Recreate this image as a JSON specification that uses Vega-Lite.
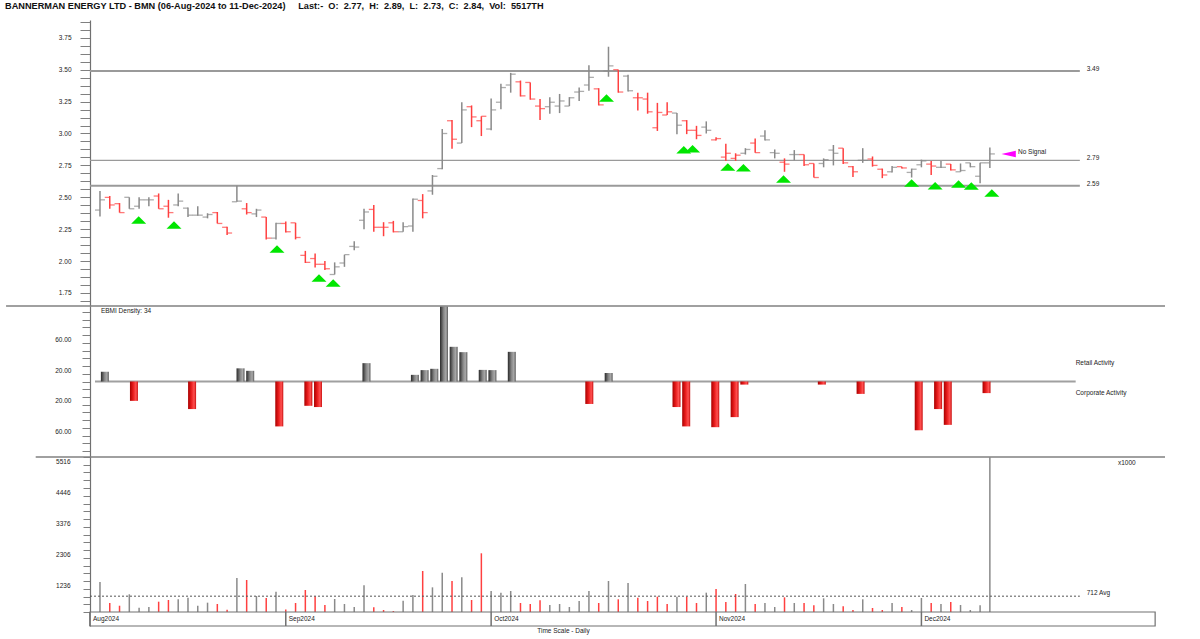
{
  "$schema": "https://vega.github.io/schema/vega-lite/v6.json",
  "padding": {"top": 2, "left": 0, "right": 0, "bottom": 0},
  "background": "white",
  "title": {
    "text": "BANNERMAN ENERGY LTD - BMN (06-Aug-2024 to 11-Dec-2024)\u00a0\u00a0\u00a0\u00a0\u00a0Last:-\u00a0\u00a0O:\u00a0\u00a02.77,\u00a0\u00a0H:\u00a0\u00a02.89,\u00a0\u00a0L:\u00a0\u00a02.73,\u00a0\u00a0C:\u00a0\u00a02.84,\u00a0\u00a0Vol:\u00a0\u00a05517TH",
    "anchor": "start",
    "frame": "bounds",
    "dx": 5,
    "offset": 7.5,
    "font": "Liberation Sans",
    "fontSize": 9.2,
    "fontWeight": "bold",
    "color": "#111111"
  },
  "spacing": 0,
  "bounds": "flush",
  "resolve": {"scale": {"x": "independent", "y": "independent", "color": "independent"}},
  "datasets": {
    "days": [
      {"i":0,"o":2.40,"h":2.55,"l":2.35,"c":2.48,"v":1202,"dir":"up"},
      {"i":1,"o":2.50,"h":2.51,"l":2.41,"c":2.44,"v":477,"dir":"down"},
      {"i":2,"o":2.45,"h":2.455,"l":2.38,"c":2.38,"v":383,"dir":"down"},
      {"i":3,"o":2.50,"h":2.50,"l":2.41,"c":2.41,"v":777,"dir":"up"},
      {"i":4,"o":2.43,"h":2.50,"l":2.41,"c":2.48,"v":315,"dir":"up"},
      {"i":5,"o":2.48,"h":2.50,"l":2.43,"c":2.48,"v":338,"dir":"up"},
      {"i":6,"o":2.51,"h":2.53,"l":2.41,"c":2.41,"v":522,"dir":"down"},
      {"i":7,"o":2.43,"h":2.48,"l":2.34,"c":2.38,"v":580,"dir":"down"},
      {"i":8,"o":2.44,"h":2.53,"l":2.43,"c":2.47,"v":604,"dir":"up"},
      {"i":9,"o":2.415,"h":2.42,"l":2.345,"c":2.36,"v":660,"dir":"up"},
      {"i":10,"o":2.36,"h":2.43,"l":2.355,"c":2.36,"v":383,"dir":"up"},
      {"i":11,"o":2.345,"h":2.375,"l":2.335,"c":2.365,"v":488,"dir":"up"},
      {"i":12,"o":2.38,"h":2.385,"l":2.295,"c":2.295,"v":442,"dir":"down"},
      {"i":13,"o":2.265,"h":2.27,"l":2.205,"c":2.22,"v":246,"dir":"down"},
      {"i":14,"o":2.465,"h":2.59,"l":2.465,"c":2.47,"v":1340,"dir":"up"},
      {"i":15,"o":2.41,"h":2.455,"l":2.365,"c":2.38,"v":1271,"dir":"down"},
      {"i":16,"o":2.37,"h":2.41,"l":2.345,"c":2.40,"v":718,"dir":"up"},
      {"i":17,"o":2.345,"h":2.345,"l":2.17,"c":2.18,"v":649,"dir":"down"},
      {"i":18,"o":2.18,"h":2.30,"l":2.17,"c":2.295,"v":867,"dir":"up"},
      {"i":19,"o":2.295,"h":2.31,"l":2.225,"c":2.23,"v":250,"dir":"down"},
      {"i":20,"o":2.30,"h":2.30,"l":2.17,"c":2.185,"v":477,"dir":"down"},
      {"i":21,"o":2.045,"h":2.08,"l":1.985,"c":1.99,"v":925,"dir":"down"},
      {"i":22,"o":2.02,"h":2.06,"l":1.95,"c":1.975,"v":707,"dir":"down"},
      {"i":23,"o":1.975,"h":2.00,"l":1.93,"c":1.94,"v":408,"dir":"down"},
      {"i":24,"o":1.895,"h":1.99,"l":1.895,"c":1.955,"v":615,"dir":"up"},
      {"i":25,"o":1.985,"h":2.05,"l":1.955,"c":2.05,"v":442,"dir":"up"},
      {"i":26,"o":2.115,"h":2.155,"l":2.085,"c":2.11,"v":338,"dir":"up"},
      {"i":27,"o":2.32,"h":2.41,"l":2.25,"c":2.385,"v":1087,"dir":"up"},
      {"i":28,"o":2.405,"h":2.44,"l":2.23,"c":2.265,"v":327,"dir":"down"},
      {"i":29,"o":2.265,"h":2.305,"l":2.195,"c":2.265,"v":235,"dir":"down"},
      {"i":30,"o":2.30,"h":2.315,"l":2.225,"c":2.23,"v":200,"dir":"down"},
      {"i":31,"o":2.23,"h":2.305,"l":2.23,"c":2.27,"v":557,"dir":"up"},
      {"i":32,"o":2.275,"h":2.49,"l":2.23,"c":2.485,"v":753,"dir":"up"},
      {"i":33,"o":2.475,"h":2.525,"l":2.335,"c":2.38,"v":1581,"dir":"down"},
      {"i":34,"o":2.55,"h":2.675,"l":2.52,"c":2.665,"v":1017,"dir":"up"},
      {"i":35,"o":2.725,"h":3.035,"l":2.72,"c":3.00,"v":1523,"dir":"up"},
      {"i":36,"o":3.10,"h":3.105,"l":2.88,"c":2.955,"v":1236,"dir":"down"},
      {"i":37,"o":2.925,"h":3.245,"l":2.925,"c":3.185,"v":1364,"dir":"up"},
      {"i":38,"o":3.21,"h":3.22,"l":3.05,"c":3.13,"v":580,"dir":"down"},
      {"i":39,"o":3.10,"h":3.135,"l":2.98,"c":3.135,"v":2192,"dir":"down"},
      {"i":40,"o":3.035,"h":3.275,"l":3.025,"c":3.185,"v":891,"dir":"up"},
      {"i":41,"o":3.245,"h":3.39,"l":3.19,"c":3.36,"v":833,"dir":"up"},
      {"i":42,"o":3.38,"h":3.475,"l":3.32,"c":3.465,"v":891,"dir":"up"},
      {"i":43,"o":3.405,"h":3.415,"l":3.29,"c":3.295,"v":477,"dir":"down"},
      {"i":44,"o":3.40,"h":3.40,"l":3.265,"c":3.27,"v":442,"dir":"down"},
      {"i":45,"o":3.215,"h":3.27,"l":3.105,"c":3.195,"v":569,"dir":"down"},
      {"i":46,"o":3.21,"h":3.285,"l":3.155,"c":3.245,"v":408,"dir":"up"},
      {"i":47,"o":3.215,"h":3.31,"l":3.16,"c":3.255,"v":442,"dir":"up"},
      {"i":48,"o":3.215,"h":3.285,"l":3.215,"c":3.28,"v":338,"dir":"up"},
      {"i":49,"o":3.325,"h":3.36,"l":3.255,"c":3.33,"v":546,"dir":"up"},
      {"i":50,"o":3.38,"h":3.535,"l":3.335,"c":3.44,"v":891,"dir":"up"},
      {"i":51,"o":3.35,"h":3.355,"l":3.22,"c":3.225,"v":477,"dir":"down"},
      {"i":52,"o":3.49,"h":3.68,"l":3.445,"c":3.53,"v":1236,"dir":"up"},
      {"i":53,"o":3.50,"h":3.50,"l":3.32,"c":3.325,"v":604,"dir":"down"},
      {"i":54,"o":3.45,"h":3.46,"l":3.33,"c":3.335,"v":1167,"dir":"up"},
      {"i":55,"o":3.28,"h":3.32,"l":3.18,"c":3.28,"v":660,"dir":"down"},
      {"i":56,"o":3.27,"h":3.32,"l":3.155,"c":3.17,"v":546,"dir":"down"},
      {"i":57,"o":3.045,"h":3.24,"l":3.02,"c":3.165,"v":695,"dir":"down"},
      {"i":58,"o":3.145,"h":3.245,"l":3.145,"c":3.17,"v":442,"dir":"down"},
      {"i":59,"o":3.16,"h":3.16,"l":2.995,"c":3.065,"v":695,"dir":"up"},
      {"i":60,"o":3.10,"h":3.105,"l":2.995,"c":3.025,"v":695,"dir":"down"},
      {"i":61,"o":3.025,"h":3.06,"l":2.955,"c":2.985,"v":477,"dir":"down"},
      {"i":62,"o":3.05,"h":3.095,"l":3.00,"c":3.025,"v":833,"dir":"up"},
      {"i":63,"o":2.95,"h":2.97,"l":2.945,"c":2.96,"v":960,"dir":"down"},
      {"i":64,"o":2.815,"h":2.92,"l":2.785,"c":2.845,"v":511,"dir":"down"},
      {"i":65,"o":2.805,"h":2.845,"l":2.785,"c":2.83,"v":787,"dir":"down"},
      {"i":66,"o":2.845,"h":2.885,"l":2.835,"c":2.875,"v":1133,"dir":"up"},
      {"i":67,"o":2.925,"h":2.96,"l":2.85,"c":2.85,"v":442,"dir":"down"},
      {"i":68,"o":2.98,"h":3.025,"l":2.945,"c":2.95,"v":477,"dir":"up"},
      {"i":69,"o":2.85,"h":2.875,"l":2.805,"c":2.845,"v":338,"dir":"up"},
      {"i":70,"o":2.775,"h":2.805,"l":2.70,"c":2.76,"v":672,"dir":"down"},
      {"i":71,"o":2.835,"h":2.87,"l":2.79,"c":2.835,"v":477,"dir":"up"},
      {"i":72,"o":2.835,"h":2.835,"l":2.745,"c":2.755,"v":477,"dir":"down"},
      {"i":73,"o":2.765,"h":2.765,"l":2.655,"c":2.655,"v":396,"dir":"down"},
      {"i":74,"o":2.765,"h":2.805,"l":2.735,"c":2.795,"v":638,"dir":"up"},
      {"i":75,"o":2.87,"h":2.91,"l":2.75,"c":2.845,"v":442,"dir":"up"},
      {"i":76,"o":2.885,"h":2.885,"l":2.76,"c":2.77,"v":362,"dir":"down"},
      {"i":77,"o":2.74,"h":2.745,"l":2.66,"c":2.70,"v":235,"dir":"down"},
      {"i":78,"o":2.79,"h":2.885,"l":2.77,"c":2.79,"v":604,"dir":"up"},
      {"i":79,"o":2.80,"h":2.82,"l":2.74,"c":2.75,"v":304,"dir":"down"},
      {"i":80,"o":2.72,"h":2.725,"l":2.65,"c":2.675,"v":235,"dir":"down"},
      {"i":81,"o":2.70,"h":2.745,"l":2.695,"c":2.735,"v":477,"dir":"up"},
      {"i":82,"o":2.74,"h":2.74,"l":2.725,"c":2.73,"v":338,"dir":"down"},
      {"i":83,"o":2.695,"h":2.725,"l":2.655,"c":2.72,"v":235,"dir":"up"},
      {"i":84,"o":2.755,"h":2.795,"l":2.735,"c":2.785,"v":649,"dir":"up"},
      {"i":85,"o":2.76,"h":2.785,"l":2.675,"c":2.745,"v":477,"dir":"down"},
      {"i":86,"o":2.735,"h":2.785,"l":2.73,"c":2.735,"v":442,"dir":"up"},
      {"i":87,"o":2.76,"h":2.76,"l":2.71,"c":2.715,"v":511,"dir":"down"},
      {"i":88,"o":2.70,"h":2.765,"l":2.70,"c":2.71,"v":408,"dir":"up"},
      {"i":89,"o":2.77,"h":2.77,"l":2.735,"c":2.74,"v":235,"dir":"up"},
      {"i":90,"o":2.665,"h":2.77,"l":2.61,"c":2.77,"v":396,"dir":"up"},
      {"i":91,"o":2.77,"h":2.89,"l":2.73,"c":2.84,"v":5517,"dir":"up"}
    ],
    "levels": [
      {"lvl":3.49,"w":2,"t":"3.49"},
      {"lvl":2.79,"w":1.2,"t":"2.79"},
      {"lvl":2.59,"w":2,"t":"2.59"}
    ],
    "signals": [
      {"ti":3.96,"tp":2.322},{"ti":7.57,"tp":2.283},{"ti":18.1,"tp":2.095},{"ti":22.4,"tp":1.868},
      {"ti":23.85,"tp":1.828},{"ti":51.8,"tp":3.278},{"ti":59.7,"tp":2.873},{"ti":60.6,"tp":2.881},
      {"ti":64.2,"tp":2.737},{"ti":65.8,"tp":2.732},{"ti":69.9,"tp":2.643},{"ti":83.0,"tp":2.612},
      {"ti":85.4,"tp":2.591},{"ti":87.8,"tp":2.604},{"ti":89.1,"tp":2.589},{"ti":91.2,"tp":2.534}
    ],
    "ebmi": [
      {"i":0,"e":12.5},{"i":3,"e":-25},{"i":9,"e":-35.6},{"i":14,"e":17},{"i":15,"e":13.8},
      {"i":18,"e":-58},{"i":21,"e":-31.4},{"i":22,"e":-33},{"i":27,"e":23.7},{"i":32,"e":8.6},
      {"i":33,"e":14.7},{"i":34,"e":16.4},{"i":35,"e":97},{"i":36,"e":44.8},{"i":37,"e":37.9},
      {"i":39,"e":15},{"i":40,"e":14.7},{"i":42,"e":38.3},{"i":50,"e":-29},{"i":52,"e":11},
      {"i":59,"e":-33},{"i":60,"e":-58},{"i":63,"e":-59},{"i":65,"e":-46},{"i":66,"e":-4},
      {"i":74,"e":-4},{"i":78,"e":-16},{"i":84,"e":-63},{"i":86,"e":-35.6},{"i":87,"e":-56},
      {"i":91,"e":-15}
    ],
    "etexts": [
      {"t":"EBMI Density: 34","x":-0.41,"e":91},
      {"t":"Retail Activity","x":100.2,"e":23.9},
      {"t":"Corporate Activity","x":100.2,"e":-14.8}
    ],
    "vtexts": [
      {"t":"x1000","x":104.1,"v":5309},
      {"t":"712 Avg","x":100.9,"v":822}
    ],
    "months": [
      {"m":"Aug2024","i":-1.02},
      {"m":"Sep2024","i":19},
      {"m":"Oct2024","i":40},
      {"m":"Nov2024","i":63},
      {"m":"Dec2024","i":84}
    ]
  },
  "vconcat": [
    {
      "width": 1080,
      "height": 286,
      "layer": [
        {
          "data": {"name": "levels"},
          "mark": {"type": "rule", "color": "#9a9a9a"},
          "encoding": {
            "x": {"datum": -1.02, "type": "quantitative", "scale": {"domain": [-1.02, 109.42], "nice": false, "zero": false}, "axis": null},
            "x2": {"datum": 100.2},
            "y": {"field": "lvl", "type": "quantitative", "scale": {"domain": [1.6481, 3.8895], "nice": false, "zero": false},
              "axis": {"title": null, "values": [1.6875,1.75,1.8125,1.875,1.9375,2,2.0625,2.125,2.1875,2.25,2.3125,2.375,2.4375,2.5,2.5625,2.625,2.6875,2.75,2.8125,2.875,2.9375,3,3.0625,3.125,3.1875,3.25,3.3125,3.375,3.4375,3.5,3.5625,3.625,3.6875,3.75,3.8125,3.875],
                "labelExpr": "abs(datum.value*4 - round(datum.value*4)) < 0.001 ? format(datum.value, '.2f') : ''",
                "tickCount": 200, "labelOverlap": false,
                "tickSize": 10, "labelPadding": 9, "minExtent": 90, "maxExtent": 90}},
            "strokeWidth": {"field": "w", "type": "quantitative", "scale": null}
          }
        },
        {
          "data": {"name": "levels"},
          "mark": {"type": "text", "align": "left", "baseline": "middle", "dy": -2, "fontSize": 6.5, "font": "Liberation Sans", "color": "#222222"},
          "encoding": {
            "x": {"datum": 100.9, "type": "quantitative", "scale": {"domain": [-1.02, 109.42], "nice": false, "zero": false}, "axis": null},
            "y": {"field": "lvl", "type": "quantitative", "scale": {"domain": [1.6481, 3.8895], "nice": false, "zero": false}},
            "text": {"field": "t"}
          }
        },
        {
          "data": {"name": "days"},
          "mark": {"type": "rule", "strokeWidth": 1.5},
          "encoding": {
            "x": {"field": "i", "type": "quantitative", "scale": {"domain": [-1.02, 109.42], "nice": false, "zero": false}, "axis": null},
            "y": {"field": "l", "type": "quantitative", "scale": {"domain": [1.6481, 3.8895], "nice": false, "zero": false}},
            "y2": {"field": "h"},
            "color": {"field": "dir", "type": "nominal", "scale": {"domain": ["up", "down"], "range": ["#8a8a8a", "#ff4040"]}, "legend": null}
          }
        },
        {
          "data": {"name": "days"},
          "mark": {"type": "tick", "orient": "horizontal", "size": 5, "thickness": 1.3, "xOffset": -2.5},
          "encoding": {
            "x": {"field": "i", "type": "quantitative", "scale": {"domain": [-1.02, 109.42], "nice": false, "zero": false}, "axis": null},
            "y": {"field": "o", "type": "quantitative", "scale": {"domain": [1.6481, 3.8895], "nice": false, "zero": false}},
            "color": {"field": "dir", "type": "nominal", "scale": {"domain": ["up", "down"], "range": ["#8a8a8a", "#ff4040"]}, "legend": null}
          }
        },
        {
          "data": {"name": "days"},
          "mark": {"type": "tick", "orient": "horizontal", "size": 5, "thickness": 1.3, "xOffset": 2.5},
          "encoding": {
            "x": {"field": "i", "type": "quantitative", "scale": {"domain": [-1.02, 109.42], "nice": false, "zero": false}, "axis": null},
            "y": {"field": "c", "type": "quantitative", "scale": {"domain": [1.6481, 3.8895], "nice": false, "zero": false}},
            "color": {"field": "dir", "type": "nominal", "scale": {"domain": ["up", "down"], "range": ["#8a8a8a", "#ff4040"]}, "legend": null}
          }
        },
        {
          "data": {"name": "signals"},
          "mark": {"type": "point", "shape": "M-1,0.5L0,-0.5L1,0.5Z", "filled": true, "size": 225, "color": "#00e600", "opacity": 1},
          "encoding": {
            "x": {"field": "ti", "type": "quantitative", "scale": {"domain": [-1.02, 109.42], "nice": false, "zero": false}, "axis": null},
            "y": {"field": "tp", "type": "quantitative", "scale": {"domain": [1.6481, 3.8895], "nice": false, "zero": false}}
          }
        },
        {
          "data": {"values": [{"x": 92.92, "p": 2.839}]},
          "mark": {"type": "point", "shape": "M-1,0L1,-0.45L1,0.45Z", "filled": true, "size": 205, "color": "#ff00ff", "opacity": 1},
          "encoding": {
            "x": {"field": "x", "type": "quantitative", "scale": {"domain": [-1.02, 109.42], "nice": false, "zero": false}, "axis": null},
            "y": {"field": "p", "type": "quantitative", "scale": {"domain": [1.6481, 3.8895], "nice": false, "zero": false}}
          }
        },
        {
          "data": {"values": [{"x": 93.87, "p": 2.855, "t": "No Signal"}]},
          "mark": {"type": "text", "align": "left", "baseline": "middle", "fontSize": 6.5, "font": "Liberation Sans", "color": "#222222"},
          "encoding": {
            "x": {"field": "x", "type": "quantitative", "scale": {"domain": [-1.02, 109.42], "nice": false, "zero": false}, "axis": null},
            "y": {"field": "p", "type": "quantitative", "scale": {"domain": [1.6481, 3.8895], "nice": false, "zero": false}},
            "text": {"field": "t"}
          }
        }
      ]
    },
    {
      "width": 1080,
      "height": 151,
      "layer": [
        {
          "data": {"values": [{"z": 0}]},
          "mark": {"type": "rule", "color": "#a0a0a0", "strokeWidth": 2},
          "encoding": {
            "x": {"datum": -1.02, "type": "quantitative", "scale": {"domain": [-1.02, 109.42], "nice": false, "zero": false}, "axis": null},
            "x2": {"datum": 100.2},
            "y": {"field": "z", "type": "quantitative", "scale": {"domain": [-97.5, 97.5], "nice": false, "zero": false},
              "axis": {"title": null, "values": [-90,-80,-70,-60,-50,-40,-30,-20,-10,0,10,20,30,40,50,60,70,80,90],
                "labelExpr": "(abs(datum.value) == 20 || abs(datum.value) == 60) ? format(abs(datum.value), '.2f') : ''",
                "tickCount": 200, "labelOverlap": false,
                "tickSize": 8, "labelPadding": 11, "labelOffset": 4, "minExtent": 90, "maxExtent": 90}}
          }
        },
        {
          "data": {"name": "ebmi"},
          "transform": [{"filter": "datum.e > 0"}],
          "mark": {"type": "bar", "size": 8, "color": {"gradient": "linear", "x1": 0, "y1": 0, "x2": 1, "y2": 0, "stops": [{"offset": 0, "color": "#2a2a2a"}, {"offset": 0.45, "color": "#858585"}, {"offset": 0.75, "color": "#a8a8a8"}, {"offset": 1, "color": "#5a5a5a"}]}},
          "encoding": {
            "x": {"field": "i", "type": "quantitative", "scale": {"domain": [-1.02, 109.42], "nice": false, "zero": false}, "axis": null},
            "y": {"field": "e", "type": "quantitative", "scale": {"domain": [-97.5, 97.5], "nice": false, "zero": false}},
            "y2": {"datum": 0}
          }
        },
        {
          "data": {"name": "ebmi"},
          "transform": [{"filter": "datum.e < 0"}],
          "mark": {"type": "bar", "size": 8, "color": {"gradient": "linear", "x1": 0, "y1": 0, "x2": 1, "y2": 0, "stops": [{"offset": 0, "color": "#a80000"}, {"offset": 0.4, "color": "#e81c1c"}, {"offset": 0.75, "color": "#ff5050"}, {"offset": 1, "color": "#c81010"}]}},
          "encoding": {
            "x": {"field": "i", "type": "quantitative", "scale": {"domain": [-1.02, 109.42], "nice": false, "zero": false}, "axis": null},
            "y": {"field": "e", "type": "quantitative", "scale": {"domain": [-97.5, 97.5], "nice": false, "zero": false}},
            "y2": {"datum": 0}
          }
        },
        {
          "data": {"name": "etexts"},
          "mark": {"type": "text", "align": "left", "baseline": "middle", "fontSize": 6.5, "font": "Liberation Sans", "color": "#222222"},
          "encoding": {
            "x": {"field": "x", "type": "quantitative", "scale": {"domain": [-1.02, 109.42], "nice": false, "zero": false}, "axis": null},
            "y": {"field": "e", "type": "quantitative", "scale": {"domain": [-97.5, 97.5], "nice": false, "zero": false}},
            "text": {"field": "t"}
          }
        },
        {
          "data": {"values": [{"z": 97.5}]},
          "mark": {"type": "rule", "color": "#808080", "strokeWidth": 1.5},
          "encoding": {
            "x": {"datum": -10.2, "type": "quantitative", "scale": {"domain": [-1.02, 109.42], "nice": false, "zero": false}, "axis": null},
            "x2": {"datum": 109.42},
            "y": {"field": "z", "type": "quantitative", "scale": {"domain": [-97.5, 97.5], "nice": false, "zero": false}}
          }
        },
        {
          "data": {"values": [{"z": -97.5}]},
          "mark": {"type": "rule", "color": "#808080", "strokeWidth": 1.5},
          "encoding": {
            "x": {"datum": -7.14, "type": "quantitative", "scale": {"domain": [-1.02, 109.42], "nice": false, "zero": false}, "axis": null},
            "x2": {"datum": 109.42},
            "y": {"field": "z", "type": "quantitative", "scale": {"domain": [-97.5, 97.5], "nice": false, "zero": false}}
          }
        }
      ]
    },
    {
      "width": 1080,
      "height": 155,
      "layer": [
        {
          "data": {"name": "days"},
          "mark": {"type": "rule", "strokeWidth": 1.5},
          "encoding": {
            "x": {"field": "i", "type": "quantitative", "scale": {"domain": [-1.02, 109.42], "nice": false, "zero": false}, "axis": null},
            "y": {"field": "v", "type": "quantitative", "scale": {"domain": [166, 5516], "nice": false, "zero": false},
              "axis": {"title": null, "values": [166,433.5,701,968.5,1236,1503.5,1771,2038.5,2306,2573.5,2841,3108.5,3376,3643.5,3911,4178.5,4446,4713.5,4981,5248.5,5516],
                "labelExpr": "indexof([1236,2306,3376,4446,5516], datum.value) >= 0 ? format(datum.value, 'd') : ''",
                "tickCount": 200, "labelOverlap": false,
                "tickSize": 7, "labelPadding": 13, "labelOffset": 4, "minExtent": 90, "maxExtent": 90}},
            "y2": {"datum": 166},
            "color": {"field": "dir", "type": "nominal", "scale": {"domain": ["up", "down"], "range": ["#8a8a8a", "#ff4040"]}, "legend": null}
          }
        },
        {
          "data": {"values": [{"a": 712}]},
          "mark": {"type": "rule", "color": "#555555", "strokeWidth": 1, "strokeDash": [2, 2]},
          "encoding": {
            "x": {"datum": -1.02, "type": "quantitative", "scale": {"domain": [-1.02, 109.42], "nice": false, "zero": false}, "axis": null},
            "x2": {"datum": 100.2},
            "y": {"field": "a", "type": "quantitative", "scale": {"domain": [166, 5516], "nice": false, "zero": false}}
          }
        },
        {
          "data": {"name": "vtexts"},
          "mark": {"type": "text", "align": "left", "baseline": "middle", "fontSize": 6.5, "font": "Liberation Sans", "color": "#222222"},
          "encoding": {
            "x": {"field": "x", "type": "quantitative", "scale": {"domain": [-1.02, 109.42], "nice": false, "zero": false}, "axis": null},
            "y": {"field": "v", "type": "quantitative", "scale": {"domain": [166, 5516], "nice": false, "zero": false}},
            "text": {"field": "t"}
          }
        }
      ]
    },
    {
      "width": 1080,
      "height": 14,
      "layer": [
        {
          "data": {"values": [{"b": 0, "t": 1}]},
          "mark": {"type": "rect", "fill": "white", "stroke": "#707070", "strokeWidth": 1.2},
          "encoding": {
            "x": {"datum": -1.02, "type": "quantitative", "scale": {"domain": [-1.02, 109.42], "nice": false, "zero": false}, "axis": null},
            "x2": {"datum": 107.9},
            "y": {"field": "b", "type": "quantitative", "scale": {"domain": [0, 1], "nice": false, "zero": false},
              "axis": {"title": null, "ticks": false, "labels": false, "domain": true, "minExtent": 90, "maxExtent": 90}},
            "y2": {"field": "t"}
          }
        },
        {
          "data": {"name": "months"},
          "mark": {"type": "rule", "color": "#707070", "strokeWidth": 1.5},
          "encoding": {
            "x": {"field": "i", "type": "quantitative", "scale": {"domain": [-1.02, 109.42], "nice": false, "zero": false}, "axis": null},
            "y": {"datum": 0, "type": "quantitative", "scale": {"domain": [0, 1], "nice": false, "zero": false}},
            "y2": {"datum": 1}
          }
        },
        {
          "data": {"name": "months"},
          "mark": {"type": "text", "align": "left", "baseline": "middle", "dx": 3, "fontSize": 6.5, "font": "Liberation Sans", "color": "#222222"},
          "encoding": {
            "x": {"field": "i", "type": "quantitative", "scale": {"domain": [-1.02, 109.42], "nice": false, "zero": false}, "axis": null},
            "y": {"datum": 0.5, "type": "quantitative", "scale": {"domain": [0, 1], "nice": false, "zero": false}},
            "text": {"field": "m"}
          }
        },
        {
          "data": {"values": [{"x": 47.4, "y": -0.36, "t": "Time Scale - Daily"}]},
          "mark": {"type": "text", "align": "center", "baseline": "middle", "fontSize": 6.5, "font": "Liberation Sans", "color": "#222222"},
          "encoding": {
            "x": {"field": "x", "type": "quantitative", "scale": {"domain": [-1.02, 109.42], "nice": false, "zero": false}, "axis": null},
            "y": {"field": "y", "type": "quantitative", "scale": {"domain": [0, 1], "nice": false, "zero": false}},
            "text": {"field": "t"}
          }
        }
      ]
    }
  ],
  "config": {
    "view": {"stroke": null},
    "axis": {"labelFont": "Liberation Sans", "labelFontSize": 6.5, "labelColor": "#222222", "domainColor": "#707070", "tickColor": "#808080", "grid": false, "domainWidth": 1.2}
  }
}
